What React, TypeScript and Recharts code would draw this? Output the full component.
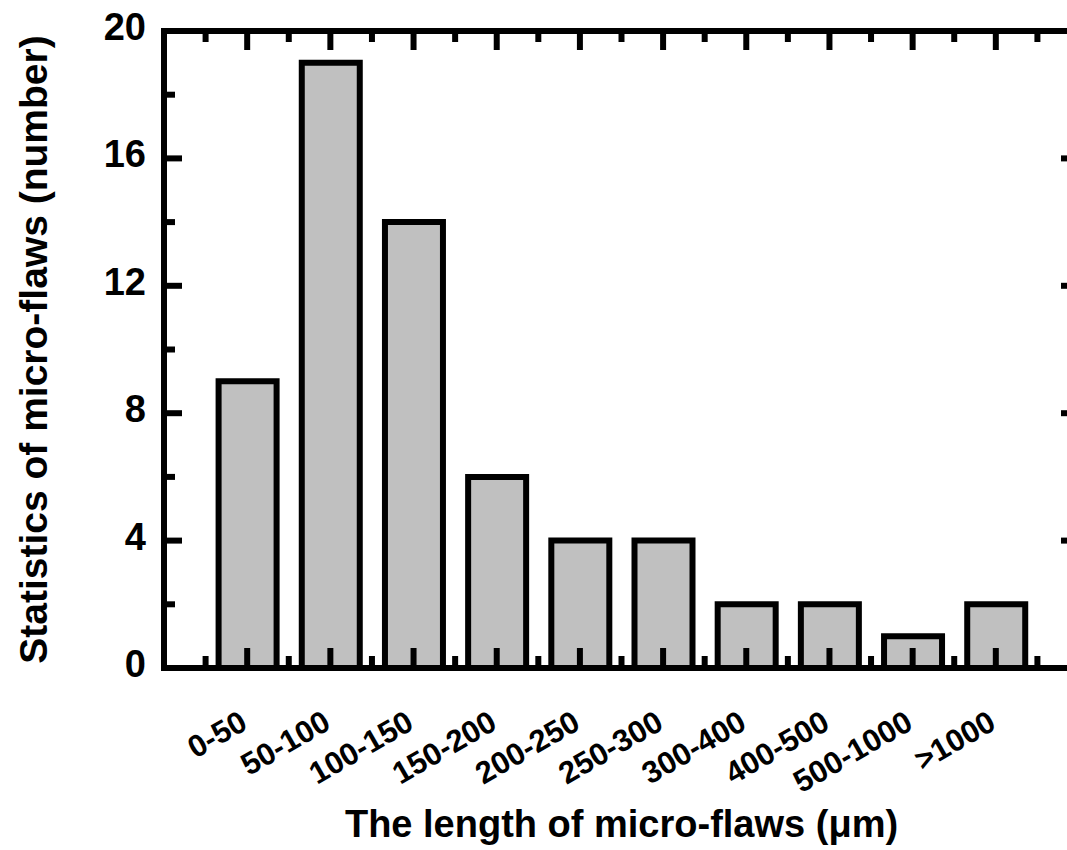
import React from 'react';
import { BarChart, Bar, XAxis, YAxis, Label } from 'recharts';

const categories = ['0-50', '50-100', '100-150', '150-200', '200-250', '250-300', '300-400', '400-500', '500-1000', '>1000'];
const counts = [9, 19, 14, 6, 4, 4, 2, 2, 1, 2];
const positions = [1, 2, 3, 4, 5, 6, 7, 8, 9, 10];
const xTicks = [0.5, 1, 1.5, 2, 2.5, 3, 3.5, 4, 4.5, 5, 5.5, 6, 6.5, 7, 7.5, 8, 8.5, 9, 9.5, 10, 10.5];
const yTicks = [0, 2, 4, 6, 8, 10, 12, 14, 16, 18, 20];
const yLabelTicks = [0, 4, 8, 12, 16, 20];
const xDomain = [0, 11];
const yDomain = [0, 20];

const data = positions.map((p, i) => ({ pos: p, label: categories[i], count: counts[i] }));

const FONT = '"Liberation Sans", Arial, Helvetica, sans-serif';
const SW = 6;

const labelFor = (v: number) => {
  const d = data.find((e) => e.pos === v);
  return d ? d.label : '';
};

const BottomTick = (props: any) => {
  const { x, y, payload } = props;
  const v = payload.value;
  const major = Number.isInteger(v);
  const ly = y + 60;
  return (
    <g>
      <line x1={x} y1={y} x2={x} y2={y - (major ? 20 : 12)} stroke="#000" strokeWidth={SW} />
      {major && (
        <text
          x={x + 2}
          y={ly}
          textAnchor="end"
          transform={`rotate(-30, ${x + 2}, ${ly})`}
          fontFamily={FONT}
          fontWeight="bold"
          fontSize={31}
          fill="#000"
        >
          {labelFor(v)}
        </text>
      )}
    </g>
  );
};

const TopTick = (props: any) => {
  const { x, y, payload } = props;
  const major = Number.isInteger(payload.value);
  return <line x1={x} y1={y} x2={x} y2={y + (major ? 19 : 11)} stroke="#000" strokeWidth={SW} />;
};

const LeftTick = (props: any) => {
  const { x, y, payload } = props;
  const v = payload.value;
  const major = yLabelTicks.includes(v);
  return (
    <g>
      <line x1={x} y1={y} x2={x + (major ? 18 : 11)} y2={y} stroke="#000" strokeWidth={SW} />
      {major && (
        <text x={x - 18} y={y + 9} textAnchor="end" fontFamily={FONT} fontWeight="bold" fontSize={38} fill="#000">
          {v}
        </text>
      )}
    </g>
  );
};

const RightTick = (props: any) => {
  const { x, y, payload } = props;
  const major = yLabelTicks.includes(payload.value);
  return <line x1={x} y1={y} x2={x - (major ? 18 : 11)} y2={y} stroke="#000" strokeWidth={SW} />;
};

const axisLine = { stroke: '#000', strokeWidth: SW, strokeLinecap: 'square' as const };

const XTitle = (p: any) => {
  const vb = p.viewBox;
  const cx = vb.x + vb.width / 2;
  return (
    <text x={cx} y={837} textAnchor="middle" fontFamily={FONT} fontWeight="bold" fontSize={38} fill="#000">
      The length of micro-flaws (μm)
    </text>
  );
};

const YTitle = (p: any) => {
  const vb = p.viewBox;
  const cy = vb.y + vb.height / 2;
  return (
    <text
      x={47}
      y={cy}
      textAnchor="middle"
      transform={`rotate(-90, 47, ${cy})`}
      fontFamily={FONT}
      fontWeight="bold"
      fontSize={39}
      fill="#000"
    >
      Statistics of micro-flaws (number)
    </text>
  );
};

export default function App() {
  return (
    <div style={{ position: 'absolute', left: 0, top: 0, width: 1067, height: 850, overflow: 'hidden', background: '#fff' }}>
      <div style={{ position: 'absolute', left: 0, top: 0 }}>
        <BarChart width={1200} height={850} data={data} margin={{ top: 0, right: 0, bottom: 0, left: 0 }}>
          <Bar dataKey="count" fill="#c0c0c0" stroke="#000" strokeWidth={SW} barSize={58} isAnimationActive={false} />
          <XAxis
            type="number"
            dataKey="pos"
            domain={xDomain}
            ticks={xTicks}
            interval={0}
            allowDataOverflow
            height={182}
            tickSize={0}
            tickMargin={0}
            tickLine={false}
            axisLine={axisLine}
            tick={<BottomTick />}
          >
            <Label content={XTitle} />
          </XAxis>
          <XAxis
            xAxisId="top"
            orientation="top"
            type="number"
            dataKey="pos"
            domain={xDomain}
            ticks={xTicks}
            interval={0}
            allowDataOverflow
            height={31}
            tickSize={0}
            tickMargin={0}
            tickLine={false}
            axisLine={axisLine}
            tick={<TopTick />}
          />
          <YAxis
            type="number"
            domain={yDomain}
            ticks={yTicks}
            interval={0}
            allowDataOverflow
            width={164}
            tickSize={0}
            tickMargin={0}
            tickLine={false}
            axisLine={axisLine}
            tick={<LeftTick />}
          >
            <Label content={YTitle} />
          </YAxis>
          <YAxis
            yAxisId="right"
            orientation="right"
            type="number"
            domain={yDomain}
            ticks={yTicks}
            interval={0}
            allowDataOverflow
            width={121}
            tickSize={0}
            tickMargin={0}
            tickLine={false}
            axisLine={axisLine}
            tick={<RightTick />}
          />
        </BarChart>
      </div>
    </div>
  );
}
